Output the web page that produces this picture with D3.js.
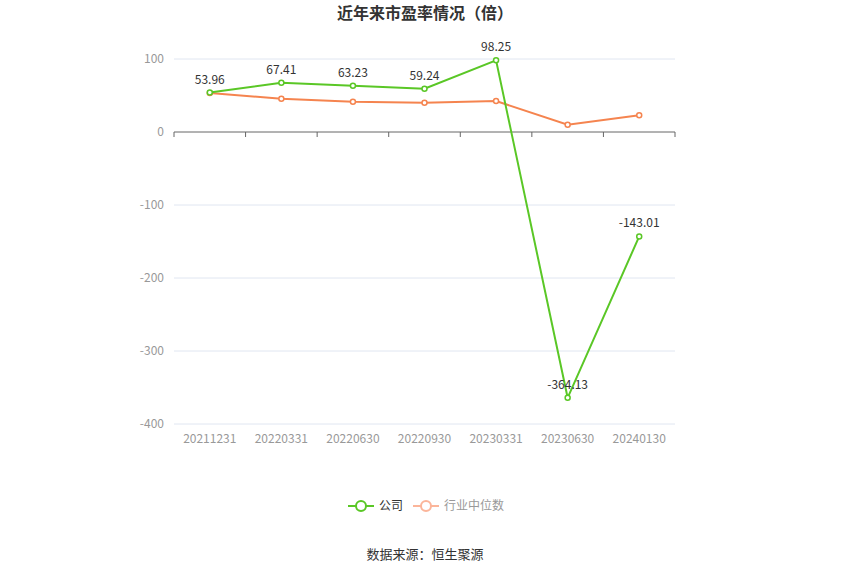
<!DOCTYPE html>
<html><head><meta charset="utf-8">
<script src="https://cdn.jsdelivr.net/npm/d3@7/dist/d3.min.js"></script>
<style>body{margin:0;background:#fff;font-family:"Noto Sans CJK SC","Noto Sans",sans-serif}</style>
</head><body><div id="chart"></div>
<script>
const categories = ["20211231","20220331","20220630","20220930","20230331","20230630","20240130"];
const company = [53.96, 67.41, 63.23, 59.24, 98.25, -364.13, -143.01];
const industry = [53.4, 45.5, 41.5, 40, 42.5, 10, 23];
const yTicks = [100, 0, -100, -200, -300, -400];

const width = 850, height = 575;
const svg = d3.select("#chart").append("svg").attr("width", width).attr("height", height);

const x = d3.scaleBand().domain(categories).range([174, 675]);
const y = d3.scaleLinear().domain([-400, 100]).range([424, 59]);
const cx = d => x(d) + x.bandwidth() / 2;

svg.append("text").attr("x", 425).attr("y", 19).attr("text-anchor", "middle")
  .attr("font-size", 16).attr("font-weight", "bold").attr("fill", "#333").text("近年来市盈率情况（倍）");

// grid
svg.selectAll(".grid").data(yTicks).enter().append("line")
  .attr("x1", 174).attr("x2", 675).attr("y1", d => y(d)).attr("y2", d => y(d))
  .attr("stroke", d => d === 0 ? "#666" : "#e0e6f1").attr("stroke-width", 1);
svg.selectAll(".ylab").data(yTicks).enter().append("text")
  .attr("x", 164).attr("y", d => y(d) + 4).attr("text-anchor", "end")
  .attr("font-size", 12).attr("fill", "#999").text(d => d);
// x ticks on zero line
svg.selectAll(".xt").data(categories.concat(["_end"])).enter().append("line")
  .attr("x1", (d, i) => 174 + i * x.bandwidth()).attr("x2", (d, i) => 174 + i * x.bandwidth())
  .attr("y1", y(0)).attr("y2", y(0) + 5).attr("stroke", "#666");
svg.selectAll(".xlab").data(categories).enter().append("text")
  .attr("x", cx).attr("y", 443).attr("text-anchor", "middle")
  .attr("font-size", 12).attr("fill", "#999").text(d => d);

const line = d3.line().x((d, i) => cx(categories[i])).y(d => y(d));
function series(vals, color) {
  svg.append("path").datum(vals).attr("d", line).attr("fill", "none")
    .attr("stroke", color).attr("stroke-width", 2);
  svg.selectAll(null).data(vals).enter().append("circle")
    .attr("cx", (d, i) => cx(categories[i])).attr("cy", d => y(d)).attr("r", 2.5)
    .attr("fill", "#fff").attr("stroke", color).attr("stroke-width", 1.5);
}
series(industry, "#f5844f");
series(company, "#5ac726");
svg.selectAll(".vl").data(company).enter().append("text")
  .attr("x", (d, i) => cx(categories[i])).attr("y", d => y(d) - 9)
  .attr("text-anchor", "middle").attr("font-size", 12).attr("fill", "#333")
  .text(d => d.toFixed(2));

// legend
const lg = svg.append("g");
lg.append("line").attr("x1", 348).attr("x2", 374).attr("y1", 506).attr("y2", 506).attr("stroke", "#5ac726").attr("stroke-width", 2);
lg.append("circle").attr("cx", 361).attr("cy", 506).attr("r", 5).attr("fill", "#fff").attr("stroke", "#5ac726").attr("stroke-width", 2);
lg.append("text").attr("x", 379).attr("y", 510).attr("font-size", 12).attr("fill", "#333").text("公司");
lg.append("line").attr("x1", 413).attr("x2", 439).attr("y1", 506).attr("y2", 506).attr("stroke", "#fbb59a").attr("stroke-width", 2);
lg.append("circle").attr("cx", 426).attr("cy", 506).attr("r", 5).attr("fill", "#fff").attr("stroke", "#fbb59a").attr("stroke-width", 2);
lg.append("text").attr("x", 444).attr("y", 510).attr("font-size", 12).attr("fill", "#999").text("行业中位数");

svg.append("text").attr("x", 425).attr("y", 559).attr("text-anchor", "middle")
  .attr("font-size", 13).attr("fill", "#333").text("数据来源：恒生聚源");
</script></body></html>
